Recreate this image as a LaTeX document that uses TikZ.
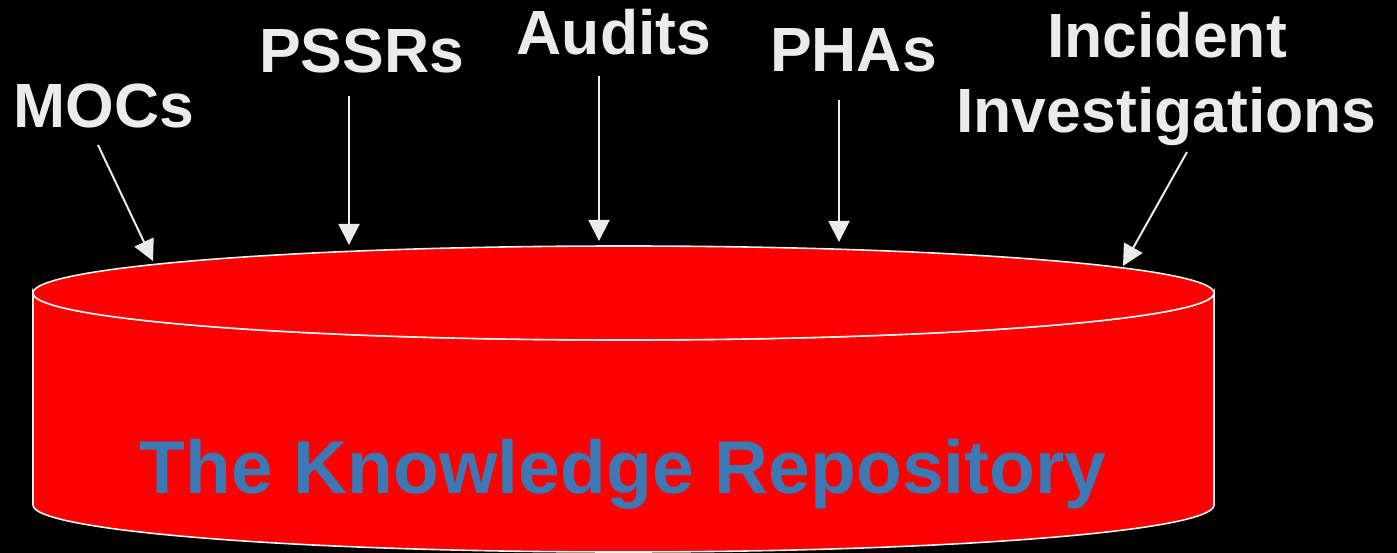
\documentclass[tikz,border=0pt]{standalone}
\usepackage{fontspec}
\setmainfont{Liberation Sans}
\usetikzlibrary{arrows.meta}
\definecolor{lbl}{HTML}{EBEBEB}
\definecolor{repoblue}{HTML}{3C78B4}
\definecolor{edge}{HTML}{F2F2F2}
\tikzset{
  lab/.style={text=lbl, font=\bfseries\fontsize{62.5}{75}\selectfont, inner sep=0pt, anchor=base, align=center},
  arr/.style={draw=lbl, line width=2pt, -{Triangle[length=21pt,width=21pt]}},
  cyl/.style={fill=red, draw=edge, line width=1.6pt}
}
\begin{document}
\begin{tikzpicture}[x=1pt,y=-1pt]
\fill[black] (0,0) rectangle (1397,553);
\useasboundingbox (0,0) rectangle (1397,553);
% cylinder
\path[cyl] (33,293) -- (33,505) arc[start angle=180, end angle=360, x radius=590.5, y radius=-47] -- (1214,293) arc[start angle=0, end angle=180, x radius=590.5, y radius=47] -- cycle;
\path[cyl] (623.5,293) ellipse[x radius=590.5, y radius=47];
\node[text=repoblue, font=\bfseries\fontsize{75}{90}\selectfont, inner sep=0pt, anchor=base] (repo) at (623,493) {The Knowledge Repository};
% labels
\node[lab] (mocs) at (104,128) {MOCs};
\node[lab] (pssrs) at (361.5,73) {PSSRs};
\node[lab] (audits) at (614,55) {Audits};
\node[lab] (phas) at (853.5,72) {PHAs};
\node[lab] (inc1) at (1167,58) {Incident};
\node[lab] (inc2) at (1166.5,133) {Investigations};
% arrow endpoints
\coordinate (mocsS) at (98,145);  \coordinate (mocsE) at (153,261);
\coordinate (pssrsS) at (349,96); \coordinate (pssrsE) at (349,245);
\coordinate (auditsS) at (599,76); \coordinate (auditsE) at (599,241);
\coordinate (phasS) at (839,100); \coordinate (phasE) at (839,242);
\coordinate (incS) at (1187,152); \coordinate (incE) at (1123,266);
\draw[arr] (mocsS) -- (mocsE);
\draw[arr] (pssrsS) -- (pssrsE);
\draw[arr] (auditsS) -- (auditsE);
\draw[arr] (phasS) -- (phasE);
\draw[arr] (incS) -- (incE);
\end{tikzpicture}
\end{document}
